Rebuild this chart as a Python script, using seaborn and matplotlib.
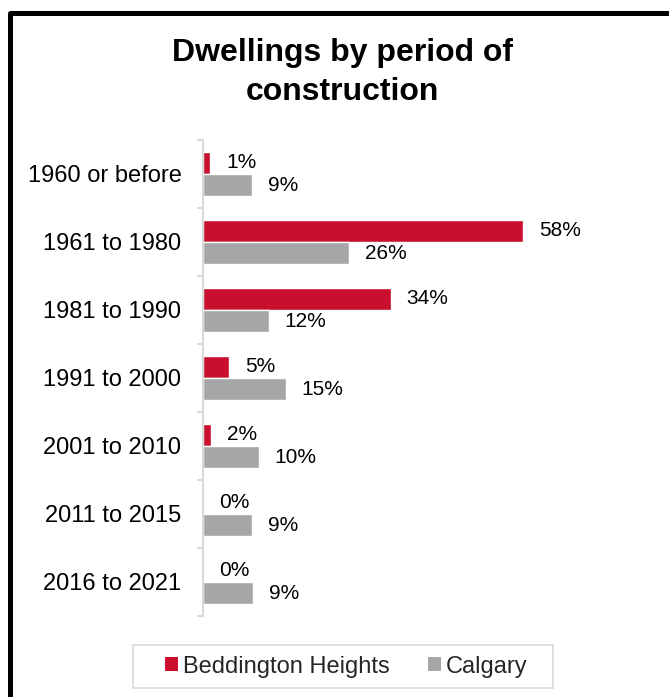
import matplotlib
matplotlib.use("Agg")
import matplotlib.pyplot as plt
from matplotlib.lines import Line2D
from matplotlib.patches import Patch, Rectangle
import seaborn as sns
import pandas as pd

categories = ["1960 or before", "1961 to 1980", "1981 to 1990", "1991 to 2000",
              "2001 to 2010", "2011 to 2015", "2016 to 2021"]
beddington = [1.3, 58.0, 34.0, 4.8, 1.5, 0.0, 0.0]
calgary = [8.8, 26.4, 11.9, 15.0, 10.1, 8.9, 9.0]
series_names = ["Beddington Heights", "Calgary"]
title = "Dwellings by period of\nconstruction"

RED = "#C8102E"
GRAY = "#A6A6A6"
SPINE = "#D9D9D9"

df = pd.DataFrame({
    "period": categories * 2,
    "value": beddington + calgary,
    "series": [series_names[0]] * len(categories) + [series_names[1]] * len(categories),
})

sns.set_theme(style="white")
plt.rcParams["font.family"] = ["Liberation Sans", "DejaVu Sans"]

W, H = 669, 697
fig = plt.figure(figsize=(W / 100, H / 100), dpi=100)
ax = fig.add_axes([203 / W, 1 - 616 / H, 386.4 / W, 476 / H])

sns.barplot(data=df, y="period", x="value", hue="series", order=categories,
            hue_order=series_names, palette=[RED, GRAY], orient="h",
            width=0.66, saturation=1, legend=False, ax=ax, errorbar=None)

for cont, vals in zip(ax.containers, [beddington, calgary]):
    ax.bar_label(cont, labels=[f"{round(v):.0f}%" for v in vals], padding=11.5,
                 fontsize=15, color="black")

ax.set_xlim(0, 70)
ax.set_ylim(len(categories) - 0.5, -0.5)
ax.set_xlabel("")
ax.set_ylabel("")
ax.set_xticks([])
for s in ["top", "right", "bottom"]:
    ax.spines[s].set_visible(False)
ax.spines["left"].set_color(SPINE)
ax.spines["left"].set_linewidth(1.5)
ax.set_yticks(range(len(categories)))
ax.set_yticklabels(categories, fontsize=17, color="black")
ax.tick_params(axis="y", which="major", length=0, pad=15.5)
ax.set_yticks([i - 0.5 for i in range(len(categories) + 1)], minor=True)
ax.tick_params(axis="y", which="minor", length=4, width=1.5, color=SPINE, left=True)

fig.text(342 / W, 1 - 38 / H, title, ha="center", va="top", fontsize=23,
         fontweight="bold", linespacing=1.4, color="black")

# legend frame
fig.add_artist(Rectangle((133 / W, 1 - 688 / H), 420 / W, 43 / H,
                         transform=fig.transFigure, facecolor="none",
                         edgecolor=SPINE, linewidth=1.2))

handles = [Patch(facecolor=RED, edgecolor="none"), Patch(facecolor=GRAY, edgecolor="none")]
leg = fig.legend(handles, series_names, loc="center", bbox_to_anchor=(346.5 / W, 1 - 666.5 / H),
                 ncol=2, frameon=False, fontsize=17, handlelength=0.55,
                 handleheight=0.55, handletextpad=0.21, columnspacing=1.6, borderpad=0.2)

frame = Line2D([9.5 / W, 9.5 / W, 1.0], [0.0, 1 - 12.5 / H, 1 - 12.5 / H],
               transform=fig.transFigure, color="black", linewidth=3.6,
               solid_joinstyle="round", solid_capstyle="butt")
fig.add_artist(frame)

fig.savefig("out.png", dpi=100, facecolor="white")
